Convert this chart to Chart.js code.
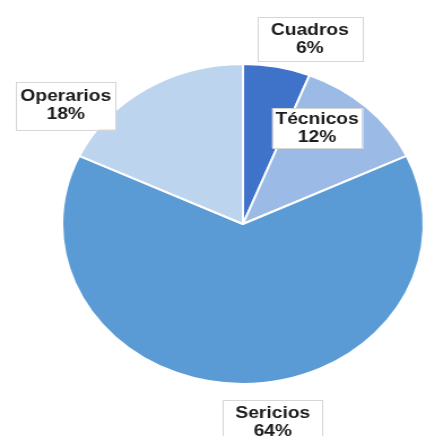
<!DOCTYPE html>
<html>
<head>
<meta charset="utf-8">
<script src="https://cdn.jsdelivr.net/npm/chart.js@4"></script>
<style>
  html, body { margin: 0; padding: 0; background: #fff; overflow: hidden; }
  /* the reference is stretched horizontally, so the whole chart is too */
  #wrap { width: 379px; height: 436px; transform: scaleX(1.13); transform-origin: 0 0; }
</style>
</head>
<body>
<div id="wrap"><canvas id="chart"></canvas></div>
<script>
const labels = ["Cuadros", "Técnicos", "Sericios", "Operarios"];
const values = [6, 12, 64, 18];
const colors = ["#3f72c9", "#9bbae5", "#5b9bd5", "#bcd4ee"];

// label box centres, in units of the pie radius from its centre
const labelPos = [[0.37, -1.155], [0.41, -0.60], [0.165, 1.24], [-0.98, -0.74]];
const labelPadX = [12, 3, 11, 4];
const labelH = [44, 40, 44, 48];

const boxLabels = {
  id: "boxLabels",
  afterDatasetsDraw(chart) {
    const ctx = chart.ctx;
    const arc = chart.getDatasetMeta(0).data[0];
    const cx = arc.x, cy = arc.y, r = arc.outerRadius;
    const total = values.reduce((a, b) => a + b, 0);
    ctx.save();
    ctx.font = "bold 17px 'Liberation Sans', Arial, sans-serif";
    ctx.textAlign = "center";
    ctx.textBaseline = "middle";
    labels.forEach((name, i) => {
      const pct = Math.round(values[i] / total * 100) + "%";
      const x = cx + labelPos[i][0] * r;
      const y = cy + labelPos[i][1] * r;
      const w = Math.max(ctx.measureText(name).width, ctx.measureText(pct).width) + labelPadX[i] * 2;
      const h = labelH[i];
      ctx.fillStyle = "#fff";
      ctx.fillRect(x - w / 2, y - h / 2, w, h);
      ctx.strokeStyle = "#d6d6d6";
      ctx.lineWidth = 1;
      ctx.strokeRect(Math.round(x - w / 2) + 0.5, Math.round(y - h / 2) + 0.5, Math.round(w), h);
      ctx.fillStyle = "#1c1c1c";
      ctx.fillText(name, x, y - 9);
      ctx.fillText(pct, x, y + 9);
    });
    ctx.restore();
  }
};

new Chart(document.getElementById("chart"), {
  type: "pie",
  data: {
    labels: labels,
    datasets: [{
      data: values,
      backgroundColor: colors,
      borderColor: "#ffffff",
      borderWidth: 2
    }]
  },
  options: {
    responsive: true,
    maintainAspectRatio: false,
    animation: false,
    layout: { padding: { top: 63, bottom: 51, left: 54, right: 3 } },
    plugins: {
      legend: { display: false },
      tooltip: { enabled: false }
    }
  },
  plugins: [boxLabels]
});
</script>
</body>
</html>
